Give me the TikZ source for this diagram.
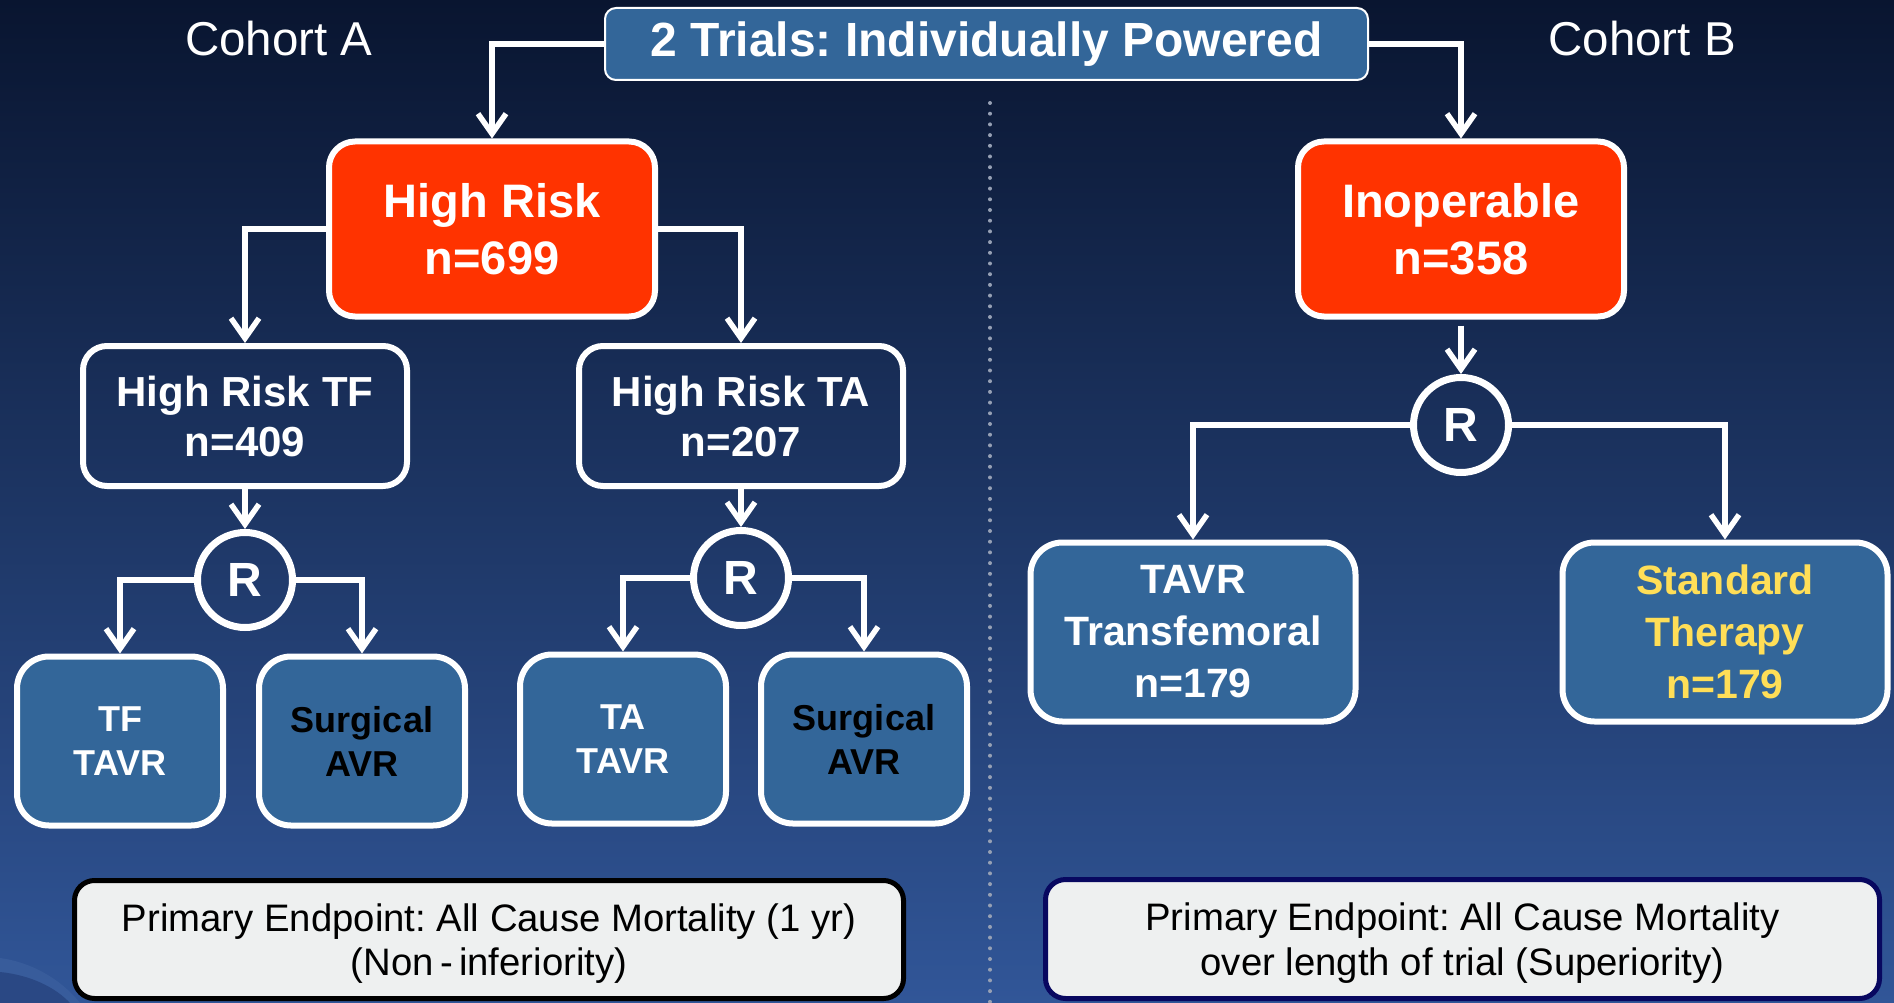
\documentclass[tikz,border=0pt]{standalone}
\usepackage{fontspec}
\setmainfont{Liberation Sans}
\usepackage{xcolor}
\usepackage{tikz}
\usetikzlibrary{arrows.meta, positioning, shapes.geometric, calc}
\definecolor{bgtop}{RGB}{9,21,48}
\definecolor{bgmid}{RGB}{30,50,98}
\definecolor{bgbot}{RGB}{49,86,152}
\definecolor{bgdeep}{RGB}{42,72,132}
\definecolor{bglight}{RGB}{62,98,160}
\definecolor{hired}{RGB}{255,51,0}
\definecolor{steel}{RGB}{51,102,153}
\definecolor{softgray}{RGB}{238,240,240}
\definecolor{navyline}{RGB}{8,8,96}
\definecolor{goldtext}{RGB}{255,222,87}
\definecolor{dotgray}{RGB}{150,160,180}
\frenchspacing

\begin{document}
\begin{tikzpicture}[x=1pt, y=-1pt,
    box/.style={draw=white, line width=6pt, rounded corners=26pt, align=center, inner sep=0pt, text=white},
    riskbox/.style={box, fill=hired, minimum width=326pt, minimum height=175pt, font=\fontsize{47}{57}\selectfont\bfseries},
    armbox/.style={box, minimum width=324pt, minimum height=140pt, rounded corners=24pt, font=\fontsize{42}{50}\selectfont\bfseries},
    randnode/.style={circle, draw=white, line width=7pt, minimum size=95pt, inner sep=0pt, text=white, font=\fontsize{48}{50}\selectfont\bfseries},
    leafbox/.style={box, fill=steel, minimum width=206pt, minimum height=169pt, rounded corners=32pt, font=\fontsize{36}{44}\selectfont\bfseries},
    bigleaf/.style={leafbox, minimum width=325pt, minimum height=179pt, font=\fontsize{41}{52}\selectfont\bfseries},
    endbox/.style={fill=softgray, line width=5pt, rounded corners=20pt, align=center, inner sep=0pt, text depth=0pt, font=\fontsize{38.3}{44.5}\selectfont},
    cohort/.style={inner sep=0pt, text=white, font=\fontsize{47.5}{50}\selectfont},
    titlebox/.style={draw=white, line width=2pt, fill=steel, rounded corners=11pt, minimum width=763pt, minimum height=72pt, inner sep=0pt, text=white, font=\fontsize{48}{50}\selectfont\bfseries},
    link/.style={draw=white, line width=5.5pt, -{Straight Barb[length=20pt, width=28pt]}}
]
    \useasboundingbox (0,0) rectangle (1894,1003);
    \shade[top color=bgtop, middle color=bgmid, bottom color=bgbot] (0,0) rectangle (1894,1003);
    % faint swoosh, bottom left
    \fill[bglight, opacity=0.6] (0,958) .. controls (30,962) and (60,978) .. (80,1003) -- (0,1003) -- cycle;
    \fill[bgdeep] (0,972) .. controls (30,975) and (55,987) .. (70,1003) -- (0,1003) -- cycle;
    \draw[dotgray, line width=4pt, line cap=round, dash pattern=on 0pt off 10.7pt] (990,103) -- (990,1003);

    % top row
    \node[titlebox] (trials) at (986.5,44) {2 Trials: Individually Powered};
    \node[cohort] (cohA) at (279,39) {Cohort A};
    \node[cohort] (cohB) at (1642,39) {Cohort B};

    % cohort A
    \node[riskbox] (hrisk) at (492,229) {High Risk\\n=699};
    \node[armbox] (hrtf) at (245,416) {High Risk TF\\n=409};
    \node[armbox] (hrta) at (741,416) {High Risk TA\\n=207};
    \node[randnode] (rtf) at (245,580) {R};
    \node[randnode] (rta) at (741,578) {R};
    \node[leafbox] (tftavr) at (120,741) {TF\\TAVR};
    \node[leafbox, text=black] (savr1) at (362,741) {Surgical\\AVR};
    \node[leafbox] (tatavr) at (623,739) {TA\\TAVR};
    \node[leafbox, text=black] (savr2) at (864,739) {Surgical\\AVR};

    % cohort B
    \node[riskbox] (inop) at (1461,229) {Inoperable\\n=358};
    \node[randnode] (rin) at (1461,425) {R};
    \node[bigleaf] (tavrtf) at (1193,632) {TAVR\\Transfemoral\\n=179};
    \node[bigleaf, text=goldtext] (stdther) at (1725,632) {Standard\\Therapy\\n=179};

    % endpoints
    \node[endbox, draw=black, minimum width=829pt, minimum height=118pt] (endA) at (489,939.5) {Primary Endpoint: All Cause Mortality (1 yr)\\(Non\,-\,inferiority)};
    \node[endbox, draw=navyline, minimum width=834pt, minimum height=119pt] (endB) at (1462.5,939) {Primary Endpoint: All Cause Mortality\\over length of trial (Superiority)};

    \draw[link] (trials.west) -| (hrisk.north);
    \draw[link] (trials.east) -| (inop.north);
    \draw[link] (hrisk.west) -| (hrtf.north);
    \draw[link] (hrisk.east) -| (hrta.north);
    \draw[link] (hrtf) -- (rtf);
    \draw[link] (hrta) -- (rta);
    \draw[link] (rtf.west) -| (tftavr.north);
    \draw[link] (rtf.east) -| (savr1.north);
    \draw[link] (rta.west) -| (tatavr.north);
    \draw[link] (rta.east) -| (savr2.north);
    \draw[link, shorten <=6pt] (inop) -- (rin);
    \draw[link] (rin.west) -| (tavrtf.north);
    \draw[link] (rin.east) -| (stdther.north);
\end{tikzpicture}
\end{document}
